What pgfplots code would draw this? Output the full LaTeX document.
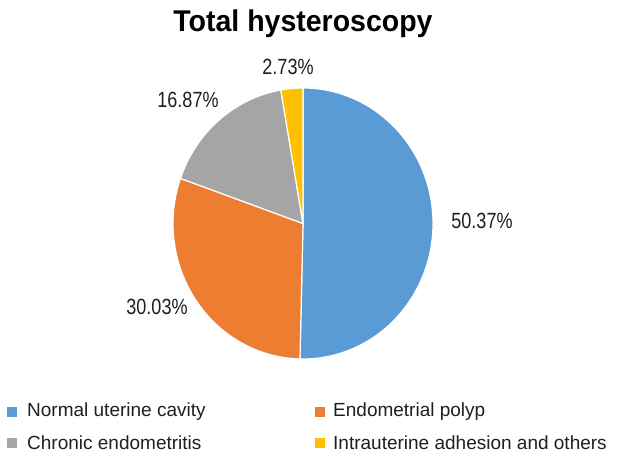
\documentclass[border=0pt]{standalone}
\usepackage{pgfplots}
\pgfplotsset{compat=1.18}
\usepackage{fontspec}
\setmainfont{Liberation Sans}

\definecolor{cblue}{HTML}{5B9BD5}
\definecolor{corange}{HTML}{ED7D31}
\definecolor{cgray}{HTML}{A5A5A5}
\definecolor{cgold}{HTML}{FFC000}
\definecolor{ctext}{HTML}{1F1F1F}

% share of each slice (%), clockwise from 12 o'clock
\def\pieData{50.37/cblue, 30.03/corange, 16.87/cgray, 2.73/cgold}

\begin{document}
\begin{tikzpicture}
\begin{axis}[
    scale only axis, width=624pt, height=462pt,
    xmin=0, xmax=624, ymin=0, ymax=462,
    hide axis, clip=false,
  ]
  \path (axis cs:0,0) rectangle (axis cs:624,462);

  % pie slices (centre 303,238.5; radii 130 x 135.5)
  \gdef\start{90}
  \foreach \val/\col in \pieData {
    \pgfmathsetmacro{\stop}{\start-3.6*\val}
    \edef\slice{\noexpand\filldraw[fill=\col, draw=white, line width=1.2pt, line join=round]
      (axis cs:303,238.5) -- ++(\start:130pt and 135.5pt)
      arc[start angle=\start, end angle=\stop, x radius=130pt, y radius=135.5pt]
      -- cycle;}
    \slice
    \global\let\start\stop
  }

  % title
  \node[anchor=base, font=\fontsize{30}{32}\selectfont\bfseries, xscale=0.95]
    at (axis cs:303,430) {Total hysteroscopy};

  % slice labels
  \begin{scope}[every node/.style={font=\fontsize{22}{24}\selectfont, xscale=0.82, text=ctext}]
    \node at (axis cs:482,241) {50.37\%};
    \node at (axis cs:157,155) {30.03\%};
    \node at (axis cs:188,362) {16.87\%};
    \node at (axis cs:288,395) {2.73\%};
  \end{scope}

  % legend
  \begin{scope}[every node/.style={font=\fontsize{19}{21}\selectfont, anchor=west, text=ctext, inner sep=0pt}]
    \fill[cblue]   (axis cs:7,45) rectangle (axis cs:17,55);
    \node at (axis cs:27,50) {Normal uterine cavity};
    \fill[corange] (axis cs:315,45) rectangle (axis cs:325,55);
    \node at (axis cs:333,50) {Endometrial polyp};
    \fill[cgray]   (axis cs:7,14) rectangle (axis cs:17,24);
    \node at (axis cs:27,19) {Chronic endometritis};
    \fill[cgold]   (axis cs:315,14) rectangle (axis cs:325,24);
    \node at (axis cs:333,19) {Intrauterine adhesion and others};
  \end{scope}
\end{axis}
\end{tikzpicture}
\end{document}
